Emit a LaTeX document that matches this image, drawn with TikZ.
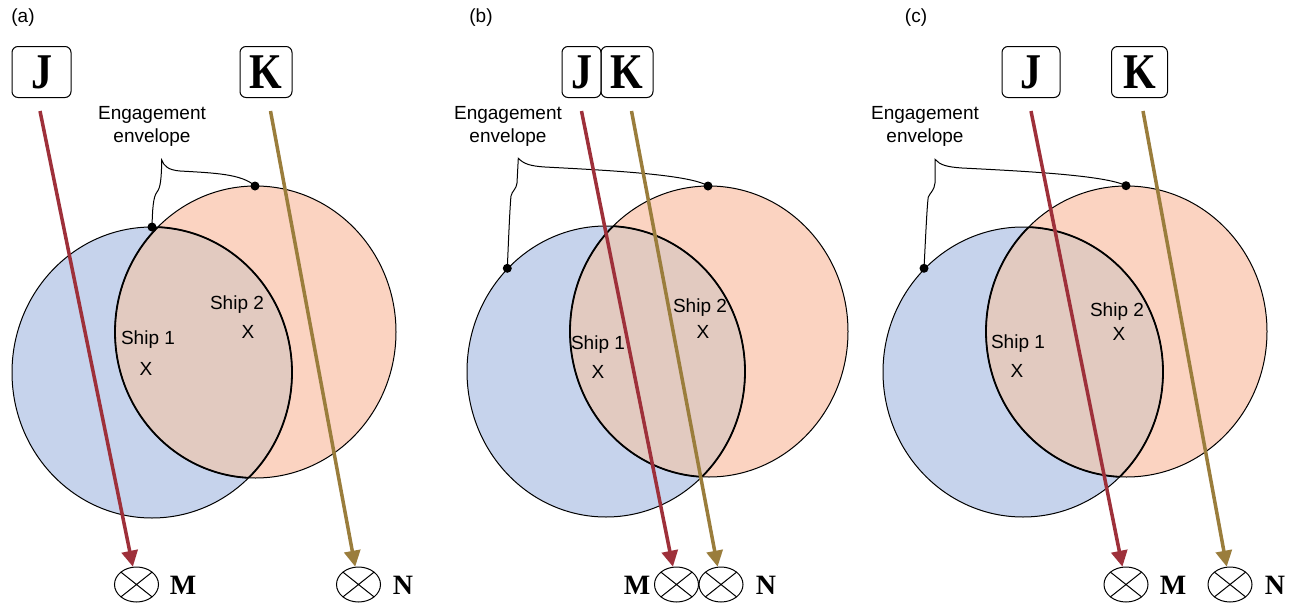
\documentclass[tikz,border=0pt]{standalone}
\usepackage{fontspec}
\setmainfont{Liberation Serif}
\newfontfamily\helvfont{Liberation Sans}
\newfontfamily\jamfont[FakeStretch=0.84]{Liberation Serif}
\usetikzlibrary{arrows.meta,shapes.geometric}
\definecolor{shipblue}{RGB}{198,211,236}
\definecolor{shipsalmon}{RGB}{251,211,193}
\definecolor{shipoverlap}{RGB}{226,202,192}
\definecolor{jamred}{RGB}{158,48,58}
\definecolor{jamolive}{RGB}{154,125,60}
\begin{document}
\begin{tikzpicture}[x=1pt,y=-1pt,
  jammer/.style={draw,rounded corners=6pt,line width=1pt,inner sep=0pt,minimum height=51pt,font=\jamfont\fontsize{50}{50}\selectfont\bfseries},
  target/.style={ellipse,draw,line width=1pt,minimum width=44pt,minimum height=35pt,inner sep=0pt,
    path picture={\draw[line width=1pt] (path picture bounding box.north west) -- (path picture bounding box.south east)
      (path picture bounding box.north east) -- (path picture bounding box.south west);}},
  tlabel/.style={font=\fontsize{28}{28}\selectfont\bfseries},
  sanslabel/.style={font=\helvfont\fontsize{19}{23}\selectfont,align=center,inner sep=0pt},
  envdot/.style={circle,fill=black,inner sep=0pt,minimum size=9pt},
  envline/.style={line width=1pt},
  rim/.style={line width=1pt},
  lens/.style={line width=1.8pt},
  redjam/.style={draw=jamred,line width=3.5pt,-{Triangle[length=16pt,width=16pt]}},
  olivejam/.style={draw=jamolive,line width=3.5pt,-{Triangle[length=16pt,width=16pt]}}]
\useasboundingbox (0,0) rectangle (1294,608);
\fill[shipblue] (152,372.5) ellipse (140pt and 145.5pt);
\fill[shipsalmon] (255.5,332) ellipse (140.5pt and 146pt);
\begin{scope}
\clip (152,372.5) ellipse (140pt and 145.5pt);
\fill[shipoverlap] (255.5,332) ellipse (140.5pt and 146pt);
\draw[lens] (255.5,332) ellipse (140.5pt and 146pt);
\end{scope}
\begin{scope}
\clip (255.5,332) ellipse (140.5pt and 146pt);
\draw[lens] (152,372.5) ellipse (140pt and 145.5pt);
\end{scope}
\draw[rim] (152,372.5) ellipse (140pt and 145.5pt);
\draw[rim] (255.5,332) ellipse (140.5pt and 146pt);
\node[sanslabel] (la) at (23,18) {(a)};
\node[sanslabel] (enva) at (152,126) {Engagement\\envelope};
\node[sanslabel] (s1a) at (148,340) {Ship 1};
\node[sanslabel] (x1a) at (146,369) {X};
\node[sanslabel] (s2a) at (237,305) {Ship 2};
\node[sanslabel] (x2a) at (248,332) {X};
\node[envdot] (d1a) at (152,227) {};
\node[envdot] (d2a) at (255,186) {};
\coordinate (tipa) at (161.7,160);
\draw[envline] (d1a.center) .. controls (152.5,210) and (153,197) .. (157,192) .. controls (160.5,188) and (161.5,178) .. (tipa)
  .. controls (164,166) and (168,170) .. (180,171) .. controls (215,173) and (242,174) .. (d2a.center);
\node[jammer,minimum width=59pt] (Ja) at (41.5,72) {J};
\node[jammer,minimum width=52pt] (Ka) at (266,72) {K};
\node[target] (Ma) at (136.5,584.5) {};
\node[target] (Na) at (358.5,584.5) {};
\node[tlabel] (mla) at (183,585) {M};
\node[tlabel] (nla) at (403,585) {N};
\draw[redjam] ([xshift=-1.5pt,yshift=-13pt]Ja.south) -- (Ma);
\draw[olivejam] ([xshift=4.5pt,yshift=-13pt]Ka.south) -- (Na);
\fill[shipblue] (606,371.5) ellipse (139pt and 145.5pt);
\fill[shipsalmon] (709,331.5) ellipse (139pt and 145.5pt);
\begin{scope}
\clip (606,371.5) ellipse (139pt and 145.5pt);
\fill[shipoverlap] (709,331.5) ellipse (139pt and 145.5pt);
\draw[lens] (709,331.5) ellipse (139pt and 145.5pt);
\end{scope}
\begin{scope}
\clip (709,331.5) ellipse (139pt and 145.5pt);
\draw[lens] (606,371.5) ellipse (139pt and 145.5pt);
\end{scope}
\draw[rim] (606,371.5) ellipse (139pt and 145.5pt);
\draw[rim] (709,331.5) ellipse (139pt and 145.5pt);
\node[sanslabel] (lb) at (481,18) {(b)};
\node[sanslabel] (envb) at (508,126) {Engagement\\envelope};
\node[sanslabel] (s1b) at (598,345) {Ship 1};
\node[sanslabel] (x1b) at (598,372) {X};
\node[sanslabel] (s2b) at (700,308) {Ship 2};
\node[sanslabel] (x2b) at (703,332) {X};
\node[envdot] (d1b) at (507.3,268.3) {};
\node[envdot] (d2b) at (708,186) {};
\coordinate (tipb) at (518.3,158.3);
\draw[envline] (d1b.center) .. controls (508.5,240) and (510,205) .. (511,196) .. controls (512,191) and (516.5,189) .. (517,183)
  -- (tipb) .. controls (524,164) and (530,166) .. (545,167) .. controls (600,170) and (690,174) .. (d2b.center);
\node[jammer,minimum width=39pt] (Jb) at (581.5,72) {J};
\node[jammer,minimum width=52pt] (Kb) at (627,72) {K};
\node[target] (Mb) at (676.5,584.5) {};
\node[target] (Nb) at (721,584.5) {};
\node[tlabel] (mlb) at (637,585) {M};
\node[tlabel] (nlb) at (766,585) {N};
\draw[redjam] ([yshift=-13pt]Jb.south) -- (Mb);
\draw[olivejam] ([xshift=4.5pt,yshift=-13pt]Kb.south) -- (Nb);
\fill[shipblue] (1023,372) ellipse (140pt and 145pt);
\fill[shipsalmon] (1126.5,331.5) ellipse (140.5pt and 145.5pt);
\begin{scope}
\clip (1023,372) ellipse (140pt and 145pt);
\fill[shipoverlap] (1126.5,331.5) ellipse (140.5pt and 145.5pt);
\draw[lens] (1126.5,331.5) ellipse (140.5pt and 145.5pt);
\end{scope}
\begin{scope}
\clip (1126.5,331.5) ellipse (140.5pt and 145.5pt);
\draw[lens] (1023,372) ellipse (140pt and 145pt);
\end{scope}
\draw[rim] (1023,372) ellipse (140pt and 145pt);
\draw[rim] (1126.5,331.5) ellipse (140.5pt and 145.5pt);
\node[sanslabel] (lc) at (916,18) {(c)};
\node[sanslabel] (envc) at (925,126) {Engagement\\envelope};
\node[sanslabel] (s1c) at (1018,344) {Ship 1};
\node[sanslabel] (x1c) at (1017,371) {X};
\node[sanslabel] (s2c) at (1117,312) {Ship 2};
\node[sanslabel] (x2c) at (1119,334) {X};
\node[envdot] (d1c) at (924,268.3) {};
\node[envdot] (d2c) at (1126,185.7) {};
\coordinate (tipc) at (935,159.3);
\draw[envline] (d1c.center) .. controls (925.5,240) and (927,205) .. (928.3,197) .. controls (930,193) and (934.5,190) .. (935,183)
  -- (tipc) .. controls (940,165) and (947,167) .. (962,168) .. controls (1020,171) and (1105,175) .. (d2c.center);
\node[jammer,minimum width=58pt] (Jc) at (1031,72) {J};
\node[jammer,minimum width=56pt] (Kc) at (1139.5,72) {K};
\node[target] (Mc) at (1126,584.5) {};
\node[target] (Nc) at (1230,584.5) {};
\node[tlabel] (mlc) at (1173,585) {M};
\node[tlabel] (nlc) at (1275,585) {N};
\draw[redjam] ([yshift=-13pt]Jc.south) -- (Mc);
\draw[olivejam] ([xshift=3.5pt,yshift=-13pt]Kc.south) -- (Nc);
\end{tikzpicture}
\end{document}
